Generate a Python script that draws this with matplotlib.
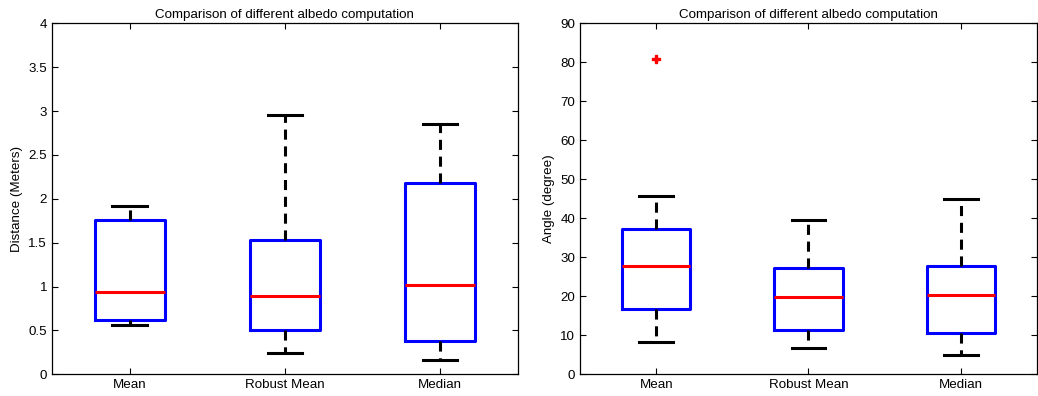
import matplotlib.pyplot as plt

plt.rcParams['font.family'] = ['Liberation Sans', 'DejaVu Sans']

labels = ['Mean', 'Robust Mean', 'Median']

# distance (meters): lower whisker, q1, median, q3, upper whisker
dist_lo = [0.558, 0.247, 0.160]
dist_q1 = [0.619, 0.509, 0.380]
dist_med = [0.938, 0.893, 1.014]
dist_q3 = [1.759, 1.531, 2.177]
dist_hi = [1.918, 2.959, 2.849]
dist_out = [[], [], []]

# angle (degree)
ang_lo = [8.2, 6.8, 4.9]
ang_q1 = [16.75, 11.45, 10.6]
ang_med = [27.8, 19.8, 20.3]
ang_q3 = [37.35, 27.3, 27.8]
ang_hi = [45.6, 39.6, 45.0]
ang_out = [[80.85], [], []]


def make_stats(lo, q1, med, q3, hi, out):
    stats = []
    for i in range(len(labels)):
        stats.append({'label': labels[i], 'whislo': lo[i], 'q1': q1[i], 'med': med[i],
                      'q3': q3[i], 'whishi': hi[i], 'fliers': out[i]})
    return stats


def draw(ax, stats, ylim, yticks, ylabel):
    ax.bxp(stats, positions=[1, 2, 3], widths=0.45, capwidths=0.22,
           boxprops=dict(color='blue', linewidth=2.2),
           medianprops=dict(color='red', linewidth=2.2),
           whiskerprops=dict(color='black', linewidth=2.2, linestyle=(0, (3.3, 2.2))),
           capprops=dict(color='black', linewidth=2.2),
           flierprops=dict(marker='P', markerfacecolor='red', markeredgecolor='red',
                           markersize=5.5, linestyle='none'))
    ax.set_xlim(0.5, 3.5)
    ax.set_ylim(*ylim)
    ax.set_yticks(yticks)
    ax.set_yticklabels([f'{t:g}' for t in yticks])
    ax.set_xticks([1, 2, 3])
    ax.set_xticklabels(labels)
    ax.tick_params(direction='in', top=True, right=True, length=4, labelsize=9.6, width=0.8)
    ax.set_ylabel(ylabel, fontsize=9.6, labelpad=4)
    ax.set_title('Comparison of different albedo computation', fontsize=9.6, pad=4)
    for s in ax.spines.values():
        s.set_linewidth(0.9)


fig = plt.figure(figsize=(10.38, 3.96), dpi=100)
ax1 = fig.add_axes([0.050, 0.055, 0.449, 0.886])
ax2 = fig.add_axes([0.5588, 0.055, 0.4402, 0.886])

draw(ax1, make_stats(dist_lo, dist_q1, dist_med, dist_q3, dist_hi, dist_out),
     (0, 4), [0, 0.5, 1, 1.5, 2, 2.5, 3, 3.5, 4], 'Distance (Meters)')
draw(ax2, make_stats(ang_lo, ang_q1, ang_med, ang_q3, ang_hi, ang_out),
     (0, 90), list(range(0, 100, 10)), 'Angle (degree)')

fig.savefig('out.png', dpi=100)
